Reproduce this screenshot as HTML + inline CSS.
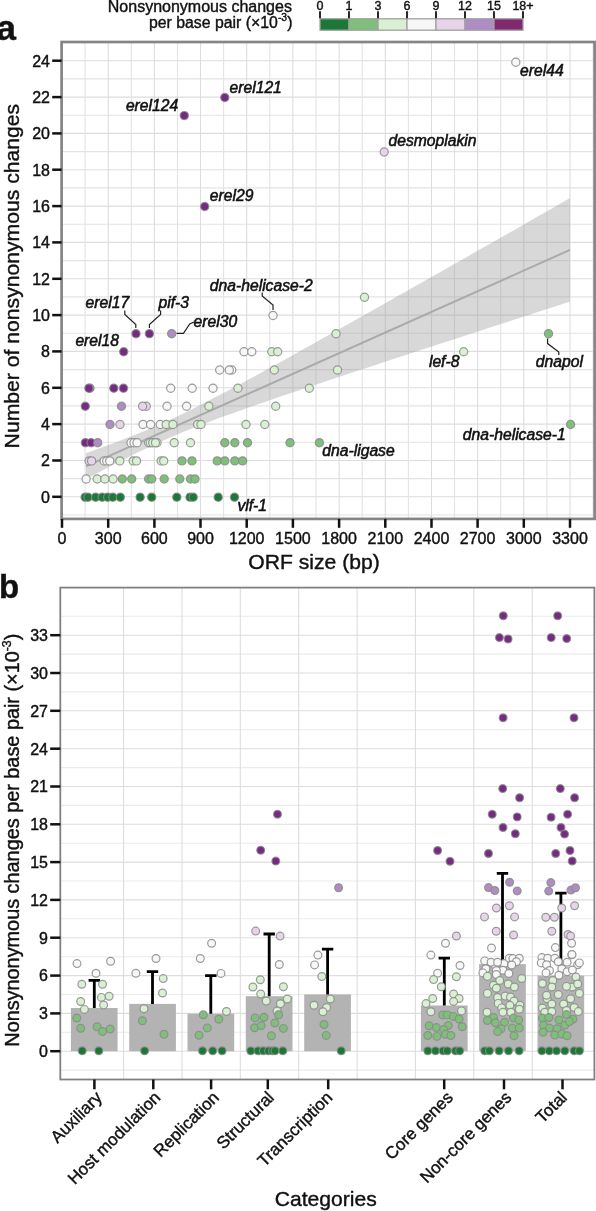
<!DOCTYPE html>
<html><head><meta charset="utf-8"><style>
html,body{margin:0;padding:0;background:#fff;}
svg{display:block;filter:blur(0.55px);}
text{stroke:#111;stroke-width:0.4px;}
text.l{stroke-width:0.55px;}
</style></head><body>
<svg width="596" height="1211" viewBox="0 0 596 1211">
<rect width="596" height="1211" fill="#fff"/>
<g stroke-width="1.1">
<line x1="61.6" x2="594.6" y1="515.0" y2="515.0" stroke="#e3e3e3"/>
<line x1="61.6" x2="594.6" y1="496.8" y2="496.8" stroke="#dddddd"/>
<line x1="61.6" x2="594.6" y1="478.6" y2="478.6" stroke="#e3e3e3"/>
<line x1="61.6" x2="594.6" y1="460.5" y2="460.5" stroke="#dddddd"/>
<line x1="61.6" x2="594.6" y1="442.3" y2="442.3" stroke="#e3e3e3"/>
<line x1="61.6" x2="594.6" y1="424.1" y2="424.1" stroke="#dddddd"/>
<line x1="61.6" x2="594.6" y1="405.9" y2="405.9" stroke="#e3e3e3"/>
<line x1="61.6" x2="594.6" y1="387.8" y2="387.8" stroke="#dddddd"/>
<line x1="61.6" x2="594.6" y1="369.6" y2="369.6" stroke="#e3e3e3"/>
<line x1="61.6" x2="594.6" y1="351.4" y2="351.4" stroke="#dddddd"/>
<line x1="61.6" x2="594.6" y1="333.3" y2="333.3" stroke="#e3e3e3"/>
<line x1="61.6" x2="594.6" y1="315.1" y2="315.1" stroke="#dddddd"/>
<line x1="61.6" x2="594.6" y1="296.9" y2="296.9" stroke="#e3e3e3"/>
<line x1="61.6" x2="594.6" y1="278.8" y2="278.8" stroke="#dddddd"/>
<line x1="61.6" x2="594.6" y1="260.6" y2="260.6" stroke="#e3e3e3"/>
<line x1="61.6" x2="594.6" y1="242.4" y2="242.4" stroke="#dddddd"/>
<line x1="61.6" x2="594.6" y1="224.2" y2="224.2" stroke="#e3e3e3"/>
<line x1="61.6" x2="594.6" y1="206.1" y2="206.1" stroke="#dddddd"/>
<line x1="61.6" x2="594.6" y1="187.9" y2="187.9" stroke="#e3e3e3"/>
<line x1="61.6" x2="594.6" y1="169.7" y2="169.7" stroke="#dddddd"/>
<line x1="61.6" x2="594.6" y1="151.6" y2="151.6" stroke="#e3e3e3"/>
<line x1="61.6" x2="594.6" y1="133.4" y2="133.4" stroke="#dddddd"/>
<line x1="61.6" x2="594.6" y1="115.2" y2="115.2" stroke="#e3e3e3"/>
<line x1="61.6" x2="594.6" y1="97.1" y2="97.1" stroke="#dddddd"/>
<line x1="61.6" x2="594.6" y1="78.9" y2="78.9" stroke="#e3e3e3"/>
<line x1="61.6" x2="594.6" y1="60.7" y2="60.7" stroke="#dddddd"/>
<line x1="61.6" x2="594.6" y1="42.5" y2="42.5" stroke="#e3e3e3"/>
<line y1="42.0" y2="518.9" x1="62.0" x2="62.0" stroke="#dddddd"/>
<line y1="42.0" y2="518.9" x1="85.1" x2="85.1" stroke="#e3e3e3"/>
<line y1="42.0" y2="518.9" x1="108.2" x2="108.2" stroke="#dddddd"/>
<line y1="42.0" y2="518.9" x1="131.3" x2="131.3" stroke="#e3e3e3"/>
<line y1="42.0" y2="518.9" x1="154.4" x2="154.4" stroke="#dddddd"/>
<line y1="42.0" y2="518.9" x1="177.5" x2="177.5" stroke="#e3e3e3"/>
<line y1="42.0" y2="518.9" x1="200.5" x2="200.5" stroke="#dddddd"/>
<line y1="42.0" y2="518.9" x1="223.6" x2="223.6" stroke="#e3e3e3"/>
<line y1="42.0" y2="518.9" x1="246.7" x2="246.7" stroke="#dddddd"/>
<line y1="42.0" y2="518.9" x1="269.8" x2="269.8" stroke="#e3e3e3"/>
<line y1="42.0" y2="518.9" x1="292.9" x2="292.9" stroke="#dddddd"/>
<line y1="42.0" y2="518.9" x1="316.0" x2="316.0" stroke="#e3e3e3"/>
<line y1="42.0" y2="518.9" x1="339.1" x2="339.1" stroke="#dddddd"/>
<line y1="42.0" y2="518.9" x1="362.2" x2="362.2" stroke="#e3e3e3"/>
<line y1="42.0" y2="518.9" x1="385.3" x2="385.3" stroke="#dddddd"/>
<line y1="42.0" y2="518.9" x1="408.4" x2="408.4" stroke="#e3e3e3"/>
<line y1="42.0" y2="518.9" x1="431.5" x2="431.5" stroke="#dddddd"/>
<line y1="42.0" y2="518.9" x1="454.5" x2="454.5" stroke="#e3e3e3"/>
<line y1="42.0" y2="518.9" x1="477.6" x2="477.6" stroke="#dddddd"/>
<line y1="42.0" y2="518.9" x1="500.7" x2="500.7" stroke="#e3e3e3"/>
<line y1="42.0" y2="518.9" x1="523.8" x2="523.8" stroke="#dddddd"/>
<line y1="42.0" y2="518.9" x1="546.9" x2="546.9" stroke="#e3e3e3"/>
<line y1="42.0" y2="518.9" x1="570.0" x2="570.0" stroke="#dddddd"/>
<line y1="42.0" y2="518.9" x1="593.1" x2="593.1" stroke="#e3e3e3"/>
</g>
<polygon points="85.9,453.2 94.1,450.3 102.3,447.3 110.5,444.3 118.7,441.2 126.9,438.0 135.1,434.8 143.3,431.4 151.5,427.9 159.7,424.4 167.9,420.7 176.1,416.9 184.3,412.9 192.5,408.9 200.7,404.8 208.9,400.6 217.2,396.3 225.4,392.0 233.6,387.6 241.8,383.2 250.0,378.8 258.2,374.3 266.4,369.8 274.6,365.3 282.8,360.7 291.0,356.2 299.2,351.6 307.4,347.0 315.6,342.4 323.8,337.8 332.0,333.2 340.2,328.6 348.4,324.0 356.7,319.3 364.9,314.7 373.1,310.1 381.3,305.4 389.5,300.8 397.7,296.1 405.9,291.5 414.1,286.8 422.3,282.2 430.5,277.5 438.7,272.9 446.9,268.2 455.1,263.5 463.3,258.9 471.5,254.2 479.7,249.5 487.9,244.9 496.1,240.2 504.4,235.5 512.6,230.9 520.8,226.2 529.0,221.5 537.2,216.8 545.4,212.2 553.6,207.5 561.8,202.8 570.0,198.1 570.0,301.6 561.8,304.3 553.6,306.9 545.4,309.6 537.2,312.2 529.0,314.9 520.8,317.6 512.6,320.2 504.4,322.9 496.1,325.5 487.9,328.2 479.7,330.9 471.5,333.6 463.3,336.2 455.1,338.9 446.9,341.6 438.7,344.2 430.5,346.9 422.3,349.6 414.1,352.3 405.9,355.0 397.7,357.6 389.5,360.3 381.3,363.0 373.1,365.7 364.9,368.4 356.7,371.1 348.4,373.8 340.2,376.5 332.0,379.3 323.8,382.0 315.6,384.7 307.4,387.5 299.2,390.2 291.0,393.0 282.8,395.8 274.6,398.5 266.4,401.4 258.2,404.2 250.0,407.0 241.8,409.9 233.6,412.9 225.4,415.8 217.2,418.8 208.9,421.9 200.7,425.0 192.5,428.3 184.3,431.6 176.1,435.0 167.9,438.5 159.7,442.2 151.5,445.9 143.3,449.8 135.1,453.8 126.9,457.9 118.7,462.0 110.5,466.3 102.3,470.6 94.1,474.9 85.9,479.3" fill="#999999" fill-opacity="0.38"/>
<line x1="85.9" y1="466.3" x2="570.0" y2="249.9" stroke="#aaaaaa" stroke-width="2"/>
<g stroke="#8a8a8a" stroke-opacity="0.85" stroke-width="1.2">
<circle cx="85.1" cy="497.2" r="4.1" fill="#1b7837"/>
<circle cx="88" cy="497.2" r="4.1" fill="#1b7837"/>
<circle cx="95.6" cy="497.2" r="4.1" fill="#1b7837"/>
<circle cx="102.2" cy="497.2" r="4.1" fill="#1b7837"/>
<circle cx="107.7" cy="497.2" r="4.1" fill="#1b7837"/>
<circle cx="112.8" cy="497.2" r="4.1" fill="#1b7837"/>
<circle cx="120.3" cy="497.2" r="4.1" fill="#1b7837"/>
<circle cx="140.1" cy="497.2" r="4.1" fill="#1b7837"/>
<circle cx="151.7" cy="497.2" r="4.1" fill="#1b7837"/>
<circle cx="176.8" cy="497.2" r="4.1" fill="#1b7837"/>
<circle cx="190" cy="497.2" r="4.1" fill="#1b7837"/>
<circle cx="193.2" cy="497.2" r="4.1" fill="#1b7837"/>
<circle cx="218.2" cy="497.2" r="4.1" fill="#1b7837"/>
<circle cx="234.5" cy="497.2" r="4.1" fill="#1b7837"/>
<circle cx="86.1" cy="479.0" r="4.1" fill="#f7f7f7"/>
<circle cx="97.2" cy="479.0" r="4.1" fill="#d9f0d3"/>
<circle cx="104.9" cy="479.0" r="4.1" fill="#d9f0d3"/>
<circle cx="113.1" cy="479.0" r="4.1" fill="#d9f0d3"/>
<circle cx="122.3" cy="479.0" r="4.1" fill="#7fbf7b"/>
<circle cx="131.7" cy="479.0" r="4.1" fill="#7fbf7b"/>
<circle cx="148.6" cy="479.0" r="4.1" fill="#7fbf7b"/>
<circle cx="151.7" cy="479.0" r="4.1" fill="#7fbf7b"/>
<circle cx="164.2" cy="479.0" r="4.1" fill="#7fbf7b"/>
<circle cx="179.8" cy="479.0" r="4.1" fill="#7fbf7b"/>
<circle cx="190.5" cy="479.0" r="4.1" fill="#7fbf7b"/>
<circle cx="195" cy="479.0" r="4.1" fill="#7fbf7b"/>
<circle cx="89.1" cy="460.9" r="4.1" fill="#e7d4e8"/>
<circle cx="91.6" cy="460.9" r="4.1" fill="#e7d4e8"/>
<circle cx="104.2" cy="460.9" r="4.1" fill="#f7f7f7"/>
<circle cx="106.7" cy="460.9" r="4.1" fill="#f7f7f7"/>
<circle cx="109.7" cy="460.9" r="4.1" fill="#f7f7f7"/>
<circle cx="119.8" cy="460.9" r="4.1" fill="#d9f0d3"/>
<circle cx="133.2" cy="460.9" r="4.1" fill="#d9f0d3"/>
<circle cx="136.5" cy="460.9" r="4.1" fill="#d9f0d3"/>
<circle cx="161.2" cy="460.9" r="4.1" fill="#d9f0d3"/>
<circle cx="163.7" cy="460.9" r="4.1" fill="#d9f0d3"/>
<circle cx="182" cy="460.9" r="4.1" fill="#7fbf7b"/>
<circle cx="192" cy="460.9" r="4.1" fill="#7fbf7b"/>
<circle cx="217.2" cy="460.9" r="4.1" fill="#7fbf7b"/>
<circle cx="224.8" cy="460.9" r="4.1" fill="#7fbf7b"/>
<circle cx="234.8" cy="460.9" r="4.1" fill="#7fbf7b"/>
<circle cx="242.6" cy="460.9" r="4.1" fill="#7fbf7b"/>
<circle cx="85.4" cy="442.7" r="4.1" fill="#762a83"/>
<circle cx="91.1" cy="442.7" r="4.1" fill="#762a83"/>
<circle cx="97.7" cy="442.7" r="4.1" fill="#af8dc3"/>
<circle cx="131" cy="442.7" r="4.1" fill="#f7f7f7"/>
<circle cx="134" cy="442.7" r="4.1" fill="#f7f7f7"/>
<circle cx="137" cy="442.7" r="4.1" fill="#f7f7f7"/>
<circle cx="148.6" cy="442.7" r="4.1" fill="#f7f7f7"/>
<circle cx="157" cy="442.7" r="4.1" fill="#f7f7f7"/>
<circle cx="150.2" cy="442.7" r="4.1" fill="#d9f0d3"/>
<circle cx="152.7" cy="442.7" r="4.1" fill="#d9f0d3"/>
<circle cx="155.5" cy="442.7" r="4.1" fill="#d9f0d3"/>
<circle cx="174.2" cy="442.7" r="4.1" fill="#d9f0d3"/>
<circle cx="190.5" cy="442.7" r="4.1" fill="#d9f0d3"/>
<circle cx="224.8" cy="442.7" r="4.1" fill="#7fbf7b"/>
<circle cx="234.8" cy="442.7" r="4.1" fill="#7fbf7b"/>
<circle cx="247.5" cy="442.7" r="4.1" fill="#7fbf7b"/>
<circle cx="290" cy="442.7" r="4.1" fill="#7fbf7b"/>
<circle cx="319.4" cy="442.7" r="4.1" fill="#7fbf7b"/>
<circle cx="110" cy="424.5" r="4.1" fill="#af8dc3"/>
<circle cx="120" cy="424.5" r="4.1" fill="#e7d4e8"/>
<circle cx="143" cy="424.5" r="4.1" fill="#f7f7f7"/>
<circle cx="150.6" cy="424.5" r="4.1" fill="#f7f7f7"/>
<circle cx="160.2" cy="424.5" r="4.1" fill="#f7f7f7"/>
<circle cx="166.2" cy="424.5" r="4.1" fill="#d9f0d3"/>
<circle cx="172.9" cy="424.5" r="4.1" fill="#d9f0d3"/>
<circle cx="197.6" cy="424.5" r="4.1" fill="#d9f0d3"/>
<circle cx="201" cy="424.5" r="4.1" fill="#d9f0d3"/>
<circle cx="246" cy="424.5" r="4.1" fill="#d9f0d3"/>
<circle cx="264.8" cy="424.5" r="4.1" fill="#d9f0d3"/>
<circle cx="570.6" cy="424.5" r="4.1" fill="#7fbf7b"/>
<circle cx="85.3" cy="406.3" r="4.1" fill="#762a83"/>
<circle cx="121.5" cy="406.3" r="4.1" fill="#af8dc3"/>
<circle cx="146.3" cy="406.3" r="4.1" fill="#e7d4e8"/>
<circle cx="142.6" cy="406.3" r="4.1" fill="#e7d4e8"/>
<circle cx="167" cy="406.3" r="4.1" fill="#f7f7f7"/>
<circle cx="186.6" cy="406.3" r="4.1" fill="#f7f7f7"/>
<circle cx="208.9" cy="406.3" r="4.1" fill="#d9f0d3"/>
<circle cx="275.7" cy="406.3" r="4.1" fill="#d9f0d3"/>
<circle cx="90" cy="388.2" r="4.1" fill="#af8dc3"/>
<circle cx="88.9" cy="388.2" r="4.1" fill="#762a83"/>
<circle cx="113.8" cy="388.2" r="4.1" fill="#762a83"/>
<circle cx="123.5" cy="388.2" r="4.1" fill="#762a83"/>
<circle cx="170.7" cy="388.2" r="4.1" fill="#f7f7f7"/>
<circle cx="192.2" cy="388.2" r="4.1" fill="#f7f7f7"/>
<circle cx="213" cy="388.2" r="4.1" fill="#f7f7f7"/>
<circle cx="237.9" cy="388.2" r="4.1" fill="#d9f0d3"/>
<circle cx="309.3" cy="388.2" r="4.1" fill="#d9f0d3"/>
<circle cx="219.7" cy="370.0" r="4.1" fill="#f7f7f7"/>
<circle cx="231.8" cy="370.0" r="4.1" fill="#f7f7f7"/>
<circle cx="229.3" cy="370.0" r="4.1" fill="#f7f7f7"/>
<circle cx="274.3" cy="370.0" r="4.1" fill="#d9f0d3"/>
<circle cx="337.5" cy="370.0" r="4.1" fill="#d9f0d3"/>
<circle cx="123.7" cy="351.8" r="4.1" fill="#762a83"/>
<circle cx="244" cy="351.8" r="4.1" fill="#f7f7f7"/>
<circle cx="251.8" cy="351.8" r="4.1" fill="#f7f7f7"/>
<circle cx="271.8" cy="351.8" r="4.1" fill="#d9f0d3"/>
<circle cx="277.7" cy="351.8" r="4.1" fill="#d9f0d3"/>
<circle cx="463.7" cy="351.8" r="4.1" fill="#d9f0d3"/>
<circle cx="136" cy="333.7" r="4.1" fill="#762a83"/>
<circle cx="149.4" cy="333.7" r="4.1" fill="#762a83"/>
<circle cx="171.7" cy="333.7" r="4.1" fill="#af8dc3"/>
<circle cx="336" cy="333.7" r="4.1" fill="#d9f0d3"/>
<circle cx="548.5" cy="333.7" r="4.1" fill="#7fbf7b"/>
<circle cx="273" cy="315.5" r="4.1" fill="#f7f7f7"/>
<circle cx="364.5" cy="297.3" r="4.1" fill="#d9f0d3"/>
<circle cx="204.7" cy="206.5" r="4.1" fill="#762a83"/>
<circle cx="384.2" cy="152.0" r="4.1" fill="#e7d4e8"/>
<circle cx="184.3" cy="115.6" r="4.1" fill="#762a83"/>
<circle cx="224.8" cy="97.5" r="4.1" fill="#762a83"/>
<circle cx="515.8" cy="62.2" r="4.1" fill="#f7f7f7"/>
</g>
<g fill="none" stroke="#222" stroke-width="1.2">
<polyline points="124.8,310.5 124.8,314.5 135.8,324.5 135.8,328"/>
<polyline points="160.6,310.5 160.6,314.5 149.4,324.5 149.4,328"/>
<polyline points="176.5,333.3 183.5,333.3 189.7,324 193.9,322"/>
<polyline points="262.2,292.5 262.2,296 273,305 273,310"/>
<polyline points="547.6,338.5 547.6,343.6 558.8,352 558.8,355"/>
</g>
<g font-family="Liberation Sans, sans-serif" font-size="15.7" font-style="italic" fill="#111">
<text class="l" x="520.1" y="76.2">erel44</text>
<text class="l" x="229.5" y="93">erel121</text>
<text class="l" x="125.9" y="111.4">erel124</text>
<text class="l" x="388.5" y="146.2">desmoplakin</text>
<text class="l" x="209.8" y="200.7">erel29</text>
<text class="l" x="209.8" y="290.7">dna-helicase-2</text>
<text class="l" x="85.6" y="307.8">erel17</text>
<text class="l" x="158.5" y="307.5">pif-3</text>
<text class="l" x="193.5" y="326.5">erel30</text>
<text class="l" x="75.4" y="346.3">erel18</text>
<text class="l" x="428.9" y="367.3">lef-8</text>
<text class="l" x="535.8" y="367.3">dnapol</text>
<text class="l" x="462.8" y="440">dna-helicase-1</text>
<text class="l" x="322.3" y="456">dna-ligase</text>
<text class="l" x="237.4" y="510.5">vlf-1</text>
</g>
<rect x="61.6" y="42.0" width="533.0" height="476.9" fill="none" stroke="#858585" stroke-width="2.7"/>
<g stroke="#111" stroke-width="2.5">
<line x1="52.2" x2="61.6" y1="496.8" y2="496.8"/>
<line x1="52.2" x2="61.6" y1="460.5" y2="460.5"/>
<line x1="52.2" x2="61.6" y1="424.1" y2="424.1"/>
<line x1="52.2" x2="61.6" y1="387.8" y2="387.8"/>
<line x1="52.2" x2="61.6" y1="351.4" y2="351.4"/>
<line x1="52.2" x2="61.6" y1="315.1" y2="315.1"/>
<line x1="52.2" x2="61.6" y1="278.8" y2="278.8"/>
<line x1="52.2" x2="61.6" y1="242.4" y2="242.4"/>
<line x1="52.2" x2="61.6" y1="206.1" y2="206.1"/>
<line x1="52.2" x2="61.6" y1="169.7" y2="169.7"/>
<line x1="52.2" x2="61.6" y1="133.4" y2="133.4"/>
<line x1="52.2" x2="61.6" y1="97.1" y2="97.1"/>
<line x1="52.2" x2="61.6" y1="60.7" y2="60.7"/>
<line x1="62.0" x2="62.0" y1="518.9" y2="527.8"/>
<line x1="108.2" x2="108.2" y1="518.9" y2="527.8"/>
<line x1="154.4" x2="154.4" y1="518.9" y2="527.8"/>
<line x1="200.5" x2="200.5" y1="518.9" y2="527.8"/>
<line x1="246.7" x2="246.7" y1="518.9" y2="527.8"/>
<line x1="292.9" x2="292.9" y1="518.9" y2="527.8"/>
<line x1="339.1" x2="339.1" y1="518.9" y2="527.8"/>
<line x1="385.3" x2="385.3" y1="518.9" y2="527.8"/>
<line x1="431.5" x2="431.5" y1="518.9" y2="527.8"/>
<line x1="477.6" x2="477.6" y1="518.9" y2="527.8"/>
<line x1="523.8" x2="523.8" y1="518.9" y2="527.8"/>
<line x1="570.0" x2="570.0" y1="518.9" y2="527.8"/>
</g>
<g font-family="Liberation Sans, sans-serif" font-size="16" fill="#111">
<text x="50" y="502.6" text-anchor="end">0</text>
<text x="50" y="466.3" text-anchor="end">2</text>
<text x="50" y="429.9" text-anchor="end">4</text>
<text x="50" y="393.6" text-anchor="end">6</text>
<text x="50" y="357.2" text-anchor="end">8</text>
<text x="50" y="320.9" text-anchor="end">10</text>
<text x="50" y="284.6" text-anchor="end">12</text>
<text x="50" y="248.2" text-anchor="end">14</text>
<text x="50" y="211.9" text-anchor="end">16</text>
<text x="50" y="175.5" text-anchor="end">18</text>
<text x="50" y="139.2" text-anchor="end">20</text>
<text x="50" y="102.9" text-anchor="end">22</text>
<text x="50" y="66.5" text-anchor="end">24</text>
<text x="62.0" y="544.3" text-anchor="middle">0</text>
<text x="108.2" y="544.3" text-anchor="middle">300</text>
<text x="154.4" y="544.3" text-anchor="middle">600</text>
<text x="200.5" y="544.3" text-anchor="middle">900</text>
<text x="246.7" y="544.3" text-anchor="middle">1200</text>
<text x="292.9" y="544.3" text-anchor="middle">1500</text>
<text x="339.1" y="544.3" text-anchor="middle">1800</text>
<text x="385.3" y="544.3" text-anchor="middle">2100</text>
<text x="431.5" y="544.3" text-anchor="middle">2400</text>
<text x="477.6" y="544.3" text-anchor="middle">2700</text>
<text x="523.8" y="544.3" text-anchor="middle">3000</text>
<text x="570.0" y="544.3" text-anchor="middle">3300</text>
</g>
<text font-family="Liberation Sans, sans-serif" font-size="21" x="248.3" y="568.9" textLength="131.4" lengthAdjust="spacingAndGlyphs" fill="#111">ORF size (bp)</text>
<text font-family="Liberation Sans, sans-serif" font-size="21" transform="translate(18.6,448.4) rotate(-90)" textLength="344.6" lengthAdjust="spacingAndGlyphs" fill="#111">Number of nonsynonymous changes</text>
<text font-family="Liberation Sans, sans-serif" font-size="35" font-weight="bold" x="-3.5" y="39.7" fill="#111">a</text>
<rect x="320" y="18.8" width="29" height="11.4" fill="#1b7837" stroke="#a0a0a0" stroke-width="1.3"/>
<rect x="349" y="18.8" width="29" height="11.4" fill="#7fbf7b" stroke="#a0a0a0" stroke-width="1.3"/>
<rect x="378" y="18.8" width="29" height="11.4" fill="#d9f0d3" stroke="#a0a0a0" stroke-width="1.3"/>
<rect x="407" y="18.8" width="29" height="11.4" fill="#f7f7f7" stroke="#a0a0a0" stroke-width="1.3"/>
<rect x="436" y="18.8" width="29" height="11.4" fill="#e7d4e8" stroke="#a0a0a0" stroke-width="1.3"/>
<rect x="465" y="18.8" width="29" height="11.4" fill="#af8dc3" stroke="#a0a0a0" stroke-width="1.3"/>
<rect x="494" y="18.8" width="29" height="11.4" fill="#80296f" stroke="#a0a0a0" stroke-width="1.3"/>
<g stroke="#111" stroke-width="1.8">
<line x1="320" x2="320" y1="11.2" y2="18.3"/>
<line x1="349" x2="349" y1="11.2" y2="18.3"/>
<line x1="378" x2="378" y1="11.2" y2="18.3"/>
<line x1="407" x2="407" y1="11.2" y2="18.3"/>
<line x1="436" x2="436" y1="11.2" y2="18.3"/>
<line x1="465" x2="465" y1="11.2" y2="18.3"/>
<line x1="494" x2="494" y1="11.2" y2="18.3"/>
<line x1="523" x2="523" y1="11.2" y2="18.3"/>
</g>
<g font-family="Liberation Sans, sans-serif" font-size="12.5" fill="#111" text-anchor="middle">
<text x="320" y="9.5">0</text>
<text x="349" y="9.5">1</text>
<text x="378" y="9.5">3</text>
<text x="407" y="9.5">6</text>
<text x="436" y="9.5">9</text>
<text x="465" y="9.5">12</text>
<text x="494" y="9.5">15</text>
<text x="523" y="9.5">18+</text>
</g>
<text font-family="Liberation Sans, sans-serif" font-size="16" x="107.8" y="11.6" textLength="184.1" lengthAdjust="spacingAndGlyphs" fill="#111">Nonsynonymous changes</text>
<text font-family="Liberation Sans, sans-serif" font-size="16" x="149" y="27.6" textLength="143.4" lengthAdjust="spacingAndGlyphs" fill="#111">per base pair (×10<tspan font-size="10.5" dy="-6.5">-3</tspan><tspan dy="6.5">)</tspan></text>
<g stroke-width="1.1">
<line x1="60.3" x2="594.4" y1="1070.1" y2="1070.1" stroke="#ebebeb"/>
<line x1="60.3" x2="594.4" y1="1051.2" y2="1051.2" stroke="#dddddd"/>
<line x1="60.3" x2="594.4" y1="1032.3" y2="1032.3" stroke="#ebebeb"/>
<line x1="60.3" x2="594.4" y1="1013.4" y2="1013.4" stroke="#dddddd"/>
<line x1="60.3" x2="594.4" y1="994.5" y2="994.5" stroke="#ebebeb"/>
<line x1="60.3" x2="594.4" y1="975.6" y2="975.6" stroke="#dddddd"/>
<line x1="60.3" x2="594.4" y1="956.7" y2="956.7" stroke="#ebebeb"/>
<line x1="60.3" x2="594.4" y1="937.7" y2="937.7" stroke="#dddddd"/>
<line x1="60.3" x2="594.4" y1="918.8" y2="918.8" stroke="#ebebeb"/>
<line x1="60.3" x2="594.4" y1="899.9" y2="899.9" stroke="#dddddd"/>
<line x1="60.3" x2="594.4" y1="881.0" y2="881.0" stroke="#ebebeb"/>
<line x1="60.3" x2="594.4" y1="862.1" y2="862.1" stroke="#dddddd"/>
<line x1="60.3" x2="594.4" y1="843.2" y2="843.2" stroke="#ebebeb"/>
<line x1="60.3" x2="594.4" y1="824.3" y2="824.3" stroke="#dddddd"/>
<line x1="60.3" x2="594.4" y1="805.4" y2="805.4" stroke="#ebebeb"/>
<line x1="60.3" x2="594.4" y1="786.5" y2="786.5" stroke="#dddddd"/>
<line x1="60.3" x2="594.4" y1="767.6" y2="767.6" stroke="#ebebeb"/>
<line x1="60.3" x2="594.4" y1="748.7" y2="748.7" stroke="#dddddd"/>
<line x1="60.3" x2="594.4" y1="729.7" y2="729.7" stroke="#ebebeb"/>
<line x1="60.3" x2="594.4" y1="710.8" y2="710.8" stroke="#dddddd"/>
<line x1="60.3" x2="594.4" y1="691.9" y2="691.9" stroke="#ebebeb"/>
<line x1="60.3" x2="594.4" y1="673.0" y2="673.0" stroke="#dddddd"/>
<line x1="60.3" x2="594.4" y1="654.1" y2="654.1" stroke="#ebebeb"/>
<line x1="60.3" x2="594.4" y1="635.2" y2="635.2" stroke="#dddddd"/>
<line x1="60.3" x2="594.4" y1="616.3" y2="616.3" stroke="#ebebeb"/>
<line y1="587.6" y2="1079.5" x1="123.6" x2="123.6" stroke="#dddddd"/>
<line y1="587.6" y2="1079.5" x1="182.0" x2="182.0" stroke="#dddddd"/>
<line y1="587.6" y2="1079.5" x1="240.3" x2="240.3" stroke="#dddddd"/>
<line y1="587.6" y2="1079.5" x1="298.7" x2="298.7" stroke="#dddddd"/>
<line y1="587.6" y2="1079.5" x1="357.1" x2="357.1" stroke="#dddddd"/>
<line y1="587.6" y2="1079.5" x1="415.4" x2="415.4" stroke="#dddddd"/>
<line y1="587.6" y2="1079.5" x1="473.8" x2="473.8" stroke="#dddddd"/>
<line y1="587.6" y2="1079.5" x1="532.2" x2="532.2" stroke="#dddddd"/>
</g>
<rect x="70.9" y="1008" width="46.7" height="43.2" fill="#b3b3b3"/>
<rect x="129.2" y="1003.9" width="46.7" height="47.3" fill="#b3b3b3"/>
<rect x="187.5" y="1013.7" width="46.7" height="37.5" fill="#b3b3b3"/>
<rect x="245.8" y="996.2" width="46.7" height="55.0" fill="#b3b3b3"/>
<rect x="304.2" y="994.4" width="46.7" height="56.8" fill="#b3b3b3"/>
<rect x="420.9" y="1005.5" width="46.7" height="45.7" fill="#b3b3b3"/>
<rect x="479.1" y="964.1" width="46.7" height="87.1" fill="#b3b3b3"/>
<rect x="537.5" y="975.6" width="46.7" height="75.6" fill="#b3b3b3"/>
<g stroke="#000" stroke-width="2.8" fill="none">
<path d="M94.3,1008 V980.3 M88.6,980.3 H100.0"/>
<path d="M152.5,1003.9 V971.6 M146.8,971.6 H158.2"/>
<path d="M210.8,1013.7 V975.6 M205.1,975.6 H216.5"/>
<path d="M269.2,996.2 V934 M263.5,934 H274.9"/>
<path d="M327.6,994.4 V949.2 M321.9,949.2 H333.3"/>
<path d="M444.3,1005.5 V958.2 M438.6,958.2 H450.0"/>
<path d="M502.5,964.1 V873.3 M496.8,873.3 H508.2"/>
<path d="M560.9,975.6 V893.1 M555.2,893.1 H566.6"/>
</g>
<g stroke="#8a8a8a" stroke-opacity="0.85" stroke-width="1.2">
<circle cx="77" cy="963.6" r="3.9" fill="#f7f7f7"/>
<circle cx="110.6" cy="961.2" r="3.9" fill="#f7f7f7"/>
<circle cx="96" cy="973.2" r="3.9" fill="#f7f7f7"/>
<circle cx="81.8" cy="984.3" r="3.9" fill="#d9f0d3"/>
<circle cx="102.5" cy="984.3" r="3.9" fill="#d9f0d3"/>
<circle cx="109.1" cy="996.3" r="3.9" fill="#d9f0d3"/>
<circle cx="101.4" cy="997.4" r="3.9" fill="#d9f0d3"/>
<circle cx="80.7" cy="1001.5" r="3.9" fill="#d9f0d3"/>
<circle cx="103.6" cy="1005" r="3.9" fill="#d9f0d3"/>
<circle cx="84.4" cy="1009.4" r="3.9" fill="#d9f0d3"/>
<circle cx="76.8" cy="1018.1" r="3.9" fill="#7fbf7b"/>
<circle cx="80.7" cy="1028.3" r="3.9" fill="#7fbf7b"/>
<circle cx="97.1" cy="1026.8" r="3.9" fill="#7fbf7b"/>
<circle cx="102.5" cy="1031.6" r="3.9" fill="#7fbf7b"/>
<circle cx="110.2" cy="1029" r="3.9" fill="#7fbf7b"/>
<circle cx="82.2" cy="1050.8" r="3.9" fill="#1b7837"/>
<circle cx="98.8" cy="1050.8" r="3.9" fill="#1b7837"/>
<circle cx="156" cy="958.5" r="3.9" fill="#f7f7f7"/>
<circle cx="135.9" cy="973.2" r="3.9" fill="#f7f7f7"/>
<circle cx="163.2" cy="978.6" r="3.9" fill="#d9f0d3"/>
<circle cx="162.5" cy="993" r="3.9" fill="#d9f0d3"/>
<circle cx="144" cy="1008.7" r="3.9" fill="#d9f0d3"/>
<circle cx="142.4" cy="1020.7" r="3.9" fill="#7fbf7b"/>
<circle cx="164" cy="1034.2" r="3.9" fill="#7fbf7b"/>
<circle cx="144.6" cy="1050.8" r="3.9" fill="#1b7837"/>
<circle cx="211.6" cy="943.3" r="3.9" fill="#f7f7f7"/>
<circle cx="200.3" cy="958.5" r="3.9" fill="#f7f7f7"/>
<circle cx="221" cy="973.4" r="3.9" fill="#f7f7f7"/>
<circle cx="226.5" cy="1011.5" r="3.9" fill="#d9f0d3"/>
<circle cx="203.3" cy="1014.8" r="3.9" fill="#7fbf7b"/>
<circle cx="218.8" cy="1019.2" r="3.9" fill="#7fbf7b"/>
<circle cx="207.3" cy="1027.9" r="3.9" fill="#7fbf7b"/>
<circle cx="199" cy="1035.3" r="3.9" fill="#7fbf7b"/>
<circle cx="202.5" cy="1050.8" r="3.9" fill="#1b7837"/>
<circle cx="212.7" cy="1050.8" r="3.9" fill="#1b7837"/>
<circle cx="222.1" cy="1050.8" r="3.9" fill="#1b7837"/>
<circle cx="277.5" cy="814.2" r="3.9" fill="#762a83"/>
<circle cx="260.7" cy="850.2" r="3.9" fill="#762a83"/>
<circle cx="275.8" cy="861.1" r="3.9" fill="#762a83"/>
<circle cx="255.7" cy="931.1" r="3.9" fill="#e7d4e8"/>
<circle cx="280.1" cy="936.1" r="3.9" fill="#e7d4e8"/>
<circle cx="279.3" cy="964.5" r="3.9" fill="#f7f7f7"/>
<circle cx="260.3" cy="979.8" r="3.9" fill="#d9f0d3"/>
<circle cx="252.9" cy="987" r="3.9" fill="#d9f0d3"/>
<circle cx="283.4" cy="986.8" r="3.9" fill="#d9f0d3"/>
<circle cx="260.7" cy="994" r="3.9" fill="#d9f0d3"/>
<circle cx="287.3" cy="999" r="3.9" fill="#d9f0d3"/>
<circle cx="266.2" cy="1001.1" r="3.9" fill="#d9f0d3"/>
<circle cx="280.4" cy="1003.8" r="3.9" fill="#d9f0d3"/>
<circle cx="277.1" cy="1011" r="3.9" fill="#d9f0d3"/>
<circle cx="278.6" cy="1014.7" r="3.9" fill="#7fbf7b"/>
<circle cx="255.1" cy="1017.9" r="3.9" fill="#7fbf7b"/>
<circle cx="264" cy="1017.3" r="3.9" fill="#7fbf7b"/>
<circle cx="274.9" cy="1023" r="3.9" fill="#7fbf7b"/>
<circle cx="254.6" cy="1027.8" r="3.9" fill="#7fbf7b"/>
<circle cx="261.2" cy="1025.6" r="3.9" fill="#7fbf7b"/>
<circle cx="283.4" cy="1028.4" r="3.9" fill="#7fbf7b"/>
<circle cx="271.4" cy="1035.8" r="3.9" fill="#7fbf7b"/>
<circle cx="250.8" cy="1050.8" r="3.9" fill="#1b7837"/>
<circle cx="258" cy="1050.8" r="3.9" fill="#1b7837"/>
<circle cx="263.4" cy="1050.8" r="3.9" fill="#1b7837"/>
<circle cx="268.5" cy="1050.8" r="3.9" fill="#1b7837"/>
<circle cx="272.5" cy="1050.8" r="3.9" fill="#1b7837"/>
<circle cx="275" cy="1050.8" r="3.9" fill="#1b7837"/>
<circle cx="282.8" cy="1050.8" r="3.9" fill="#1b7837"/>
<circle cx="338.6" cy="887.7" r="3.9" fill="#af8dc3"/>
<circle cx="317.9" cy="955.1" r="3.9" fill="#f7f7f7"/>
<circle cx="314.6" cy="964.9" r="3.9" fill="#f7f7f7"/>
<circle cx="321.8" cy="976.5" r="3.9" fill="#d9f0d3"/>
<circle cx="330.3" cy="999" r="3.9" fill="#d9f0d3"/>
<circle cx="314" cy="1005.3" r="3.9" fill="#d9f0d3"/>
<circle cx="326.6" cy="1007.5" r="3.9" fill="#d9f0d3"/>
<circle cx="322.9" cy="1011.8" r="3.9" fill="#d9f0d3"/>
<circle cx="324" cy="1024.5" r="3.9" fill="#7fbf7b"/>
<circle cx="326.2" cy="1035.4" r="3.9" fill="#7fbf7b"/>
<circle cx="341.2" cy="1050.8" r="3.9" fill="#1b7837"/>
<circle cx="437.6" cy="850.5" r="3.9" fill="#762a83"/>
<circle cx="450" cy="861.3" r="3.9" fill="#762a83"/>
<circle cx="456.4" cy="936" r="3.9" fill="#e7d4e8"/>
<circle cx="445.5" cy="943.3" r="3.9" fill="#f7f7f7"/>
<circle cx="430.9" cy="955.1" r="3.9" fill="#f7f7f7"/>
<circle cx="460" cy="965.5" r="3.9" fill="#f7f7f7"/>
<circle cx="437.6" cy="973.3" r="3.9" fill="#f7f7f7"/>
<circle cx="433.6" cy="979.6" r="3.9" fill="#d9f0d3"/>
<circle cx="456.4" cy="976.7" r="3.9" fill="#d9f0d3"/>
<circle cx="441.3" cy="986.7" r="3.9" fill="#d9f0d3"/>
<circle cx="453.6" cy="994" r="3.9" fill="#d9f0d3"/>
<circle cx="432.7" cy="998.5" r="3.9" fill="#d9f0d3"/>
<circle cx="426" cy="1003.6" r="3.9" fill="#d9f0d3"/>
<circle cx="459.1" cy="998.5" r="3.9" fill="#d9f0d3"/>
<circle cx="453.6" cy="1001.5" r="3.9" fill="#d9f0d3"/>
<circle cx="430.9" cy="1011.8" r="3.9" fill="#d9f0d3"/>
<circle cx="461.5" cy="1010.9" r="3.9" fill="#d9f0d3"/>
<circle cx="442.7" cy="1014.9" r="3.9" fill="#7fbf7b"/>
<circle cx="447.3" cy="1014.9" r="3.9" fill="#7fbf7b"/>
<circle cx="453.3" cy="1016.4" r="3.9" fill="#7fbf7b"/>
<circle cx="459.1" cy="1019.1" r="3.9" fill="#7fbf7b"/>
<circle cx="429.1" cy="1025.8" r="3.9" fill="#7fbf7b"/>
<circle cx="436.4" cy="1027.6" r="3.9" fill="#7fbf7b"/>
<circle cx="448.2" cy="1025.5" r="3.9" fill="#7fbf7b"/>
<circle cx="443.6" cy="1029.5" r="3.9" fill="#7fbf7b"/>
<circle cx="462.2" cy="1026.7" r="3.9" fill="#7fbf7b"/>
<circle cx="427.8" cy="1035.5" r="3.9" fill="#7fbf7b"/>
<circle cx="436.9" cy="1036.4" r="3.9" fill="#7fbf7b"/>
<circle cx="445.5" cy="1034.2" r="3.9" fill="#7fbf7b"/>
<circle cx="450.9" cy="1035.5" r="3.9" fill="#7fbf7b"/>
<circle cx="427.8" cy="1050.8" r="3.9" fill="#1b7837"/>
<circle cx="435.5" cy="1050.8" r="3.9" fill="#1b7837"/>
<circle cx="443.1" cy="1050.8" r="3.9" fill="#1b7837"/>
<circle cx="447.3" cy="1050.8" r="3.9" fill="#1b7837"/>
<circle cx="455.5" cy="1050.8" r="3.9" fill="#1b7837"/>
<circle cx="459.6" cy="1050.8" r="3.9" fill="#1b7837"/>
<circle cx="503.3" cy="615.8" r="3.9" fill="#762a83"/>
<circle cx="499.4" cy="637.6" r="3.9" fill="#762a83"/>
<circle cx="508.1" cy="639" r="3.9" fill="#762a83"/>
<circle cx="503.1" cy="717.8" r="3.9" fill="#762a83"/>
<circle cx="502.7" cy="788.6" r="3.9" fill="#762a83"/>
<circle cx="519.6" cy="797.7" r="3.9" fill="#762a83"/>
<circle cx="492.2" cy="814.3" r="3.9" fill="#762a83"/>
<circle cx="517.2" cy="816.9" r="3.9" fill="#762a83"/>
<circle cx="503" cy="827.5" r="3.9" fill="#762a83"/>
<circle cx="515.3" cy="833.7" r="3.9" fill="#762a83"/>
<circle cx="488.5" cy="853.5" r="3.9" fill="#762a83"/>
<circle cx="509.6" cy="882.2" r="3.9" fill="#af8dc3"/>
<circle cx="488.5" cy="887.6" r="3.9" fill="#af8dc3"/>
<circle cx="494.8" cy="890.5" r="3.9" fill="#af8dc3"/>
<circle cx="517.2" cy="890.9" r="3.9" fill="#af8dc3"/>
<circle cx="509.4" cy="905.7" r="3.9" fill="#e7d4e8"/>
<circle cx="496.4" cy="908" r="3.9" fill="#e7d4e8"/>
<circle cx="484.5" cy="916.9" r="3.9" fill="#e7d4e8"/>
<circle cx="514.6" cy="916.9" r="3.9" fill="#e7d4e8"/>
<circle cx="496.2" cy="931.2" r="3.9" fill="#e7d4e8"/>
<circle cx="513.6" cy="935" r="3.9" fill="#e7d4e8"/>
<circle cx="491.5" cy="948" r="3.9" fill="#f7f7f7"/>
<circle cx="484.7" cy="960.9" r="3.9" fill="#f7f7f7"/>
<circle cx="494.7" cy="964.7" r="3.9" fill="#f7f7f7"/>
<circle cx="504.1" cy="963.5" r="3.9" fill="#f7f7f7"/>
<circle cx="509.3" cy="958.2" r="3.9" fill="#f7f7f7"/>
<circle cx="512.9" cy="958.6" r="3.9" fill="#f7f7f7"/>
<circle cx="519.3" cy="958.2" r="3.9" fill="#f7f7f7"/>
<circle cx="516.4" cy="961.7" r="3.9" fill="#f7f7f7"/>
<circle cx="511.7" cy="965" r="3.9" fill="#f7f7f7"/>
<circle cx="491.1" cy="962.3" r="3.9" fill="#f7f7f7"/>
<circle cx="497.6" cy="962.3" r="3.9" fill="#f7f7f7"/>
<circle cx="485.9" cy="968.8" r="3.9" fill="#f7f7f7"/>
<circle cx="502.9" cy="970.3" r="3.9" fill="#f7f7f7"/>
<circle cx="508.8" cy="973.5" r="3.9" fill="#f7f7f7"/>
<circle cx="496.4" cy="970.5" r="3.9" fill="#f7f7f7"/>
<circle cx="482.9" cy="972.9" r="3.9" fill="#f7f7f7"/>
<circle cx="487.4" cy="976.4" r="3.9" fill="#d9f0d3"/>
<circle cx="496.4" cy="974.6" r="3.9" fill="#f7f7f7"/>
<circle cx="521.7" cy="978.5" r="3.9" fill="#d9f0d3"/>
<circle cx="499.7" cy="980.5" r="3.9" fill="#d9f0d3"/>
<circle cx="508.2" cy="984" r="3.9" fill="#d9f0d3"/>
<circle cx="514.4" cy="987" r="3.9" fill="#d9f0d3"/>
<circle cx="493.5" cy="985.2" r="3.9" fill="#d9f0d3"/>
<circle cx="496.4" cy="988.2" r="3.9" fill="#d9f0d3"/>
<circle cx="487.4" cy="993.4" r="3.9" fill="#d9f0d3"/>
<circle cx="497.6" cy="997.6" r="3.9" fill="#d9f0d3"/>
<circle cx="505.2" cy="996.1" r="3.9" fill="#d9f0d3"/>
<circle cx="510.5" cy="997" r="3.9" fill="#d9f0d3"/>
<circle cx="514" cy="1001.1" r="3.9" fill="#d9f0d3"/>
<circle cx="498.2" cy="1003.4" r="3.9" fill="#d9f0d3"/>
<circle cx="509.9" cy="1005.2" r="3.9" fill="#d9f0d3"/>
<circle cx="519.9" cy="1005.2" r="3.9" fill="#d9f0d3"/>
<circle cx="501.7" cy="1007.9" r="3.9" fill="#d9f0d3"/>
<circle cx="519.3" cy="1009.3" r="3.9" fill="#d9f0d3"/>
<circle cx="487" cy="1012.2" r="3.9" fill="#d9f0d3"/>
<circle cx="502.9" cy="1012.2" r="3.9" fill="#d9f0d3"/>
<circle cx="510.9" cy="1012.2" r="3.9" fill="#d9f0d3"/>
<circle cx="493.5" cy="1017.5" r="3.9" fill="#7fbf7b"/>
<circle cx="487.4" cy="1020.5" r="3.9" fill="#7fbf7b"/>
<circle cx="495.3" cy="1022.8" r="3.9" fill="#7fbf7b"/>
<circle cx="504.6" cy="1022.2" r="3.9" fill="#7fbf7b"/>
<circle cx="513.5" cy="1018.1" r="3.9" fill="#7fbf7b"/>
<circle cx="518.7" cy="1019.9" r="3.9" fill="#7fbf7b"/>
<circle cx="501.1" cy="1028.7" r="3.9" fill="#7fbf7b"/>
<circle cx="497.6" cy="1031.6" r="3.9" fill="#7fbf7b"/>
<circle cx="512.3" cy="1028.1" r="3.9" fill="#7fbf7b"/>
<circle cx="519.3" cy="1028.1" r="3.9" fill="#7fbf7b"/>
<circle cx="514" cy="1035.7" r="3.9" fill="#7fbf7b"/>
<circle cx="484.7" cy="1050.8" r="3.9" fill="#1b7837"/>
<circle cx="489.4" cy="1050.8" r="3.9" fill="#1b7837"/>
<circle cx="499.1" cy="1050.8" r="3.9" fill="#1b7837"/>
<circle cx="508.5" cy="1050.8" r="3.9" fill="#1b7837"/>
<circle cx="519.1" cy="1050.8" r="3.9" fill="#1b7837"/>
<circle cx="557.7" cy="615.8" r="3.9" fill="#762a83"/>
<circle cx="551.2" cy="637.6" r="3.9" fill="#762a83"/>
<circle cx="566.7" cy="638.6" r="3.9" fill="#762a83"/>
<circle cx="574" cy="717.8" r="3.9" fill="#762a83"/>
<circle cx="560.3" cy="788.6" r="3.9" fill="#762a83"/>
<circle cx="574.6" cy="797.7" r="3.9" fill="#762a83"/>
<circle cx="551.1" cy="817.2" r="3.9" fill="#762a83"/>
<circle cx="567.6" cy="814.3" r="3.9" fill="#762a83"/>
<circle cx="561" cy="827.5" r="3.9" fill="#762a83"/>
<circle cx="564.6" cy="834.1" r="3.9" fill="#762a83"/>
<circle cx="555.7" cy="853.5" r="3.9" fill="#762a83"/>
<circle cx="570" cy="850.5" r="3.9" fill="#762a83"/>
<circle cx="572.2" cy="861" r="3.9" fill="#762a83"/>
<circle cx="550.8" cy="882.6" r="3.9" fill="#af8dc3"/>
<circle cx="548.7" cy="891.1" r="3.9" fill="#af8dc3"/>
<circle cx="570.9" cy="890.1" r="3.9" fill="#af8dc3"/>
<circle cx="575.5" cy="887.8" r="3.9" fill="#af8dc3"/>
<circle cx="561.7" cy="908" r="3.9" fill="#e7d4e8"/>
<circle cx="574.6" cy="905.7" r="3.9" fill="#e7d4e8"/>
<circle cx="545.8" cy="917.2" r="3.9" fill="#e7d4e8"/>
<circle cx="554.4" cy="917.2" r="3.9" fill="#e7d4e8"/>
<circle cx="551.8" cy="931.2" r="3.9" fill="#e7d4e8"/>
<circle cx="568" cy="934.5" r="3.9" fill="#e7d4e8"/>
<circle cx="570.6" cy="936" r="3.9" fill="#e7d4e8"/>
<circle cx="571.6" cy="943.3" r="3.9" fill="#f7f7f7"/>
<circle cx="555.4" cy="947.6" r="3.9" fill="#f7f7f7"/>
<circle cx="571.8" cy="954.7" r="3.9" fill="#f7f7f7"/>
<circle cx="541.9" cy="957.6" r="3.9" fill="#f7f7f7"/>
<circle cx="547.7" cy="958.2" r="3.9" fill="#f7f7f7"/>
<circle cx="554.8" cy="958.2" r="3.9" fill="#f7f7f7"/>
<circle cx="558.3" cy="961.7" r="3.9" fill="#f7f7f7"/>
<circle cx="567.1" cy="962.3" r="3.9" fill="#f7f7f7"/>
<circle cx="577.7" cy="964.7" r="3.9" fill="#f7f7f7"/>
<circle cx="541.3" cy="962.9" r="3.9" fill="#f7f7f7"/>
<circle cx="546.6" cy="964.7" r="3.9" fill="#f7f7f7"/>
<circle cx="549.5" cy="970.5" r="3.9" fill="#f7f7f7"/>
<circle cx="546" cy="972.9" r="3.9" fill="#f7f7f7"/>
<circle cx="561.8" cy="968.8" r="3.9" fill="#f7f7f7"/>
<circle cx="567.1" cy="971.7" r="3.9" fill="#f7f7f7"/>
<circle cx="572.4" cy="970" r="3.9" fill="#f7f7f7"/>
<circle cx="579.4" cy="962.9" r="3.9" fill="#f7f7f7"/>
<circle cx="572" cy="954.5" r="3.9" fill="#f7f7f7"/>
<circle cx="558.9" cy="975.2" r="3.9" fill="#f7f7f7"/>
<circle cx="575.9" cy="977" r="3.9" fill="#d9f0d3"/>
<circle cx="552.8" cy="980.5" r="3.9" fill="#d9f0d3"/>
<circle cx="542.4" cy="983.5" r="3.9" fill="#d9f0d3"/>
<circle cx="551.8" cy="987" r="3.9" fill="#d9f0d3"/>
<circle cx="572.4" cy="987" r="3.9" fill="#d9f0d3"/>
<circle cx="566.5" cy="986.4" r="3.9" fill="#d9f0d3"/>
<circle cx="577.7" cy="984" r="3.9" fill="#d9f0d3"/>
<circle cx="579.4" cy="993.4" r="3.9" fill="#d9f0d3"/>
<circle cx="558.3" cy="994.6" r="3.9" fill="#d9f0d3"/>
<circle cx="547.1" cy="998.7" r="3.9" fill="#d9f0d3"/>
<circle cx="570.6" cy="998.7" r="3.9" fill="#d9f0d3"/>
<circle cx="546.6" cy="995.2" r="3.9" fill="#d9f0d3"/>
<circle cx="551.8" cy="1004" r="3.9" fill="#d9f0d3"/>
<circle cx="563.6" cy="1004" r="3.9" fill="#d9f0d3"/>
<circle cx="574.2" cy="1007.5" r="3.9" fill="#d9f0d3"/>
<circle cx="542.4" cy="1008.1" r="3.9" fill="#d9f0d3"/>
<circle cx="544.8" cy="1012.2" r="3.9" fill="#d9f0d3"/>
<circle cx="551.8" cy="1011.6" r="3.9" fill="#d9f0d3"/>
<circle cx="578.3" cy="1011.6" r="3.9" fill="#d9f0d3"/>
<circle cx="566.5" cy="1010.5" r="3.9" fill="#d9f0d3"/>
<circle cx="566.5" cy="1014.6" r="3.9" fill="#7fbf7b"/>
<circle cx="542.4" cy="1018.1" r="3.9" fill="#7fbf7b"/>
<circle cx="548.9" cy="1017.5" r="3.9" fill="#7fbf7b"/>
<circle cx="558.9" cy="1019.9" r="3.9" fill="#7fbf7b"/>
<circle cx="573" cy="1019.3" r="3.9" fill="#7fbf7b"/>
<circle cx="543.6" cy="1025.2" r="3.9" fill="#7fbf7b"/>
<circle cx="564.8" cy="1025.2" r="3.9" fill="#7fbf7b"/>
<circle cx="549.5" cy="1028.1" r="3.9" fill="#7fbf7b"/>
<circle cx="557.1" cy="1028.7" r="3.9" fill="#7fbf7b"/>
<circle cx="543" cy="1032.2" r="3.9" fill="#7fbf7b"/>
<circle cx="554.8" cy="1035.1" r="3.9" fill="#7fbf7b"/>
<circle cx="561.8" cy="1034" r="3.9" fill="#7fbf7b"/>
<circle cx="567.1" cy="1035.7" r="3.9" fill="#7fbf7b"/>
<circle cx="569.5" cy="1021.6" r="3.9" fill="#7fbf7b"/>
<circle cx="541.9" cy="1050.8" r="3.9" fill="#1b7837"/>
<circle cx="549.3" cy="1050.8" r="3.9" fill="#1b7837"/>
<circle cx="556.5" cy="1050.8" r="3.9" fill="#1b7837"/>
<circle cx="564.8" cy="1050.8" r="3.9" fill="#1b7837"/>
<circle cx="574.2" cy="1050.8" r="3.9" fill="#1b7837"/>
<circle cx="579.4" cy="1050.8" r="3.9" fill="#1b7837"/>
</g>
<rect x="60.3" y="587.6" width="534.1" height="491.9" fill="none" stroke="#808080" stroke-width="1.8"/>
<g stroke="#111" stroke-width="2.5">
<line x1="50.2" x2="60.3" y1="1051.2" y2="1051.2"/>
<line x1="50.2" x2="60.3" y1="1013.4" y2="1013.4"/>
<line x1="50.2" x2="60.3" y1="975.6" y2="975.6"/>
<line x1="50.2" x2="60.3" y1="937.7" y2="937.7"/>
<line x1="50.2" x2="60.3" y1="899.9" y2="899.9"/>
<line x1="50.2" x2="60.3" y1="862.1" y2="862.1"/>
<line x1="50.2" x2="60.3" y1="824.3" y2="824.3"/>
<line x1="50.2" x2="60.3" y1="786.5" y2="786.5"/>
<line x1="50.2" x2="60.3" y1="748.7" y2="748.7"/>
<line x1="50.2" x2="60.3" y1="710.8" y2="710.8"/>
<line x1="50.2" x2="60.3" y1="673.0" y2="673.0"/>
<line x1="50.2" x2="60.3" y1="635.2" y2="635.2"/>
<line x1="94.4" x2="94.4" y1="1079.5" y2="1089.3"/>
<line x1="153.3" x2="153.3" y1="1079.5" y2="1089.3"/>
<line x1="211.1" x2="211.1" y1="1079.5" y2="1089.3"/>
<line x1="267.8" x2="267.8" y1="1079.5" y2="1089.3"/>
<line x1="328.2" x2="328.2" y1="1079.5" y2="1089.3"/>
<line x1="444.2" x2="444.2" y1="1079.5" y2="1089.3"/>
<line x1="504.0" x2="504.0" y1="1079.5" y2="1089.3"/>
<line x1="562.5" x2="562.5" y1="1079.5" y2="1089.3"/>
</g>
<g font-family="Liberation Sans, sans-serif" font-size="16" fill="#111">
<text x="48" y="1057.0" text-anchor="end">0</text>
<text x="48" y="1019.2" text-anchor="end">3</text>
<text x="48" y="981.4" text-anchor="end">6</text>
<text x="48" y="943.5" text-anchor="end">9</text>
<text x="48" y="905.7" text-anchor="end">12</text>
<text x="48" y="867.9" text-anchor="end">15</text>
<text x="48" y="830.1" text-anchor="end">18</text>
<text x="48" y="792.3" text-anchor="end">21</text>
<text x="48" y="754.5" text-anchor="end">24</text>
<text x="48" y="716.6" text-anchor="end">27</text>
<text x="48" y="678.8" text-anchor="end">30</text>
<text x="48" y="641.0" text-anchor="end">33</text>
<text font-size="17" transform="translate(103.0,1098.5) rotate(-45)" text-anchor="end">Auxiliary</text>
<text font-size="17" transform="translate(161.5,1098.5) rotate(-45)" text-anchor="end">Host modulation</text>
<text font-size="17" transform="translate(220.0,1098.5) rotate(-45)" text-anchor="end">Replication</text>
<text font-size="17" transform="translate(275.0,1098.5) rotate(-45)" text-anchor="end">Structural</text>
<text font-size="17" transform="translate(333.5,1098.5) rotate(-45)" text-anchor="end">Transcription</text>
<text font-size="17" transform="translate(454.0,1098.5) rotate(-45)" text-anchor="end">Core genes</text>
<text font-size="17" transform="translate(512.5,1098.5) rotate(-45)" text-anchor="end">Non-core genes</text>
<text font-size="17" transform="translate(568.0,1098.5) rotate(-45)" text-anchor="end">Total</text>
</g>
<text font-family="Liberation Sans, sans-serif" font-size="21" x="274.7" y="1205.8" textLength="102" lengthAdjust="spacingAndGlyphs" fill="#111">Categories</text>
<text font-family="Liberation Sans, sans-serif" font-size="21" transform="translate(18.8,1046.7) rotate(-90)" textLength="413" lengthAdjust="spacingAndGlyphs" fill="#111">Nonsynonymous changes per base pair (×10<tspan font-size="13" dy="-8">-3</tspan><tspan dy="8">)</tspan></text>
<text font-family="Liberation Sans, sans-serif" font-size="33" font-weight="bold" x="-1" y="597.5" fill="#111">b</text>
</svg>
</body></html>
